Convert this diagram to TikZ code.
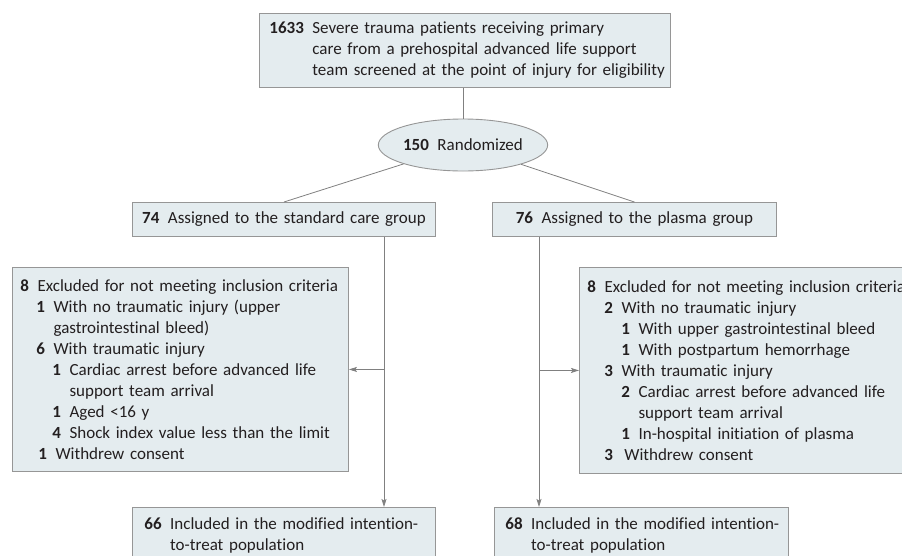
\documentclass[tikz,border=0pt]{standalone}
\usepackage{fontspec}
\setmainfont{Carlito}[Ligatures=NoCommon]
\usetikzlibrary{shapes.geometric, arrows.meta, positioning}
\definecolor{boxfill}{RGB}{228, 236, 239}
\definecolor{boxedge}{RGB}{150, 150, 150}
\definecolor{linkgray}{RGB}{128, 128, 128}
\definecolor{inkdark}{RGB}{35, 31, 32}
% one line of a box: indent, count, text
\newcommand{\entry}[3]{\mbox{\hspace*{#1}\textbf{#2}\hspace{0.5em}#3}}
\newcommand{\wrapline}[3]{\mbox{\hspace*{#1}\phantom{\textbf{#2}\hspace{0.5em}}#3}}

\begin{document}
\begin{tikzpicture}[x=1pt, y=-1pt,
  flowbox/.style={draw=boxedge, fill=boxfill, line width=0.9pt, anchor=north west,
    inner ysep=0pt, align=left, text=inkdark, font=\fontsize{17}{21}\selectfont},
  link/.style={draw=linkgray, line width=0.8pt},
  arr/.style={link, -{Stealth[length=8pt, width=5pt, inset=1.5pt]}}]
  \clip (0, 0) rectangle (902, 555);

  % Screening and randomization
  \node[flowbox, inner xsep=10pt, text width=391pt, minimum width=411pt, minimum height=74pt] (screen) at (259, 13) {
    \entry{0pt}{1633}{Severe trauma patients receiving primary}\\
    \wrapline{0pt}{1633}{care from a prehospital advanced life support}\\
    \wrapline{0pt}{1633}{team screened at the point of injury for eligibility}
  };
  \node[ellipse, draw=boxedge, fill=boxfill, line width=0.9pt, inner sep=0pt, minimum width=161pt, minimum height=52pt,
    text=inkdark, font=\fontsize{17}{21}\selectfont] (rand) at (463, 145) {\entry{0pt}{150}{Randomized}};

  % Two arms
  \node[flowbox, inner xsep=8pt, align=center, text width=287pt, minimum width=303pt, minimum height=34pt] (std) at (132, 202) {
    \entry{0pt}{74}{Assigned to the standard care group}
  };
  \node[flowbox, inner xsep=8pt, align=center, text width=268pt, minimum width=284pt, minimum height=34pt] (plas) at (492, 202) {
    \entry{0pt}{76}{Assigned to the plasma group}
  };

  % Exclusions
  \node[flowbox, inner xsep=8pt, text width=320pt, minimum width=336pt, minimum height=204pt] (exstd) at (12, 267) {
    \entry{0pt}{8}{Excluded for not meeting inclusion criteria}\\
    \entry{16pt}{1}{With no traumatic injury (upper}\\
    \wrapline{16pt}{1}{gastrointestinal bleed)}\\
    \entry{16pt}{6}{With traumatic injury}\\
    \entry{32pt}{1}{Cardiac arrest before advanced life}\\
    \wrapline{32pt}{1}{support team arrival}\\
    \entry{32pt}{1}{Aged <16 y}\\
    \entry{32pt}{4}{Shock index value less than the limit}\\
    \entry{18pt}{1}{Withdrew consent}
  };
  \node[flowbox, inner xsep=8pt, text width=320pt, minimum width=336pt, minimum height=206pt] (explas) at (579, 267) {
    \entry{0pt}{8}{Excluded for not meeting inclusion criteria}\\
    \entry{17pt}{2}{With no traumatic injury}\\
    \entry{34pt}{1}{With upper gastrointestinal bleed}\\
    \entry{34pt}{1}{With postpartum hemorrhage}\\
    \entry{17pt}{3}{With traumatic injury}\\
    \entry{34pt}{2}{Cardiac arrest before advanced life}\\
    \wrapline{34pt}{2}{support team arrival}\\
    \entry{34pt}{1}{In-hospital initiation of plasma}\\
    \entry{17pt}{3}{\,Withdrew consent}
  };

  % Analysed
  \node[flowbox, inner xsep=12pt, text width=279pt, minimum width=303pt, minimum height=56pt] (itstd) at (132, 507) {
    \entry{0pt}{66}{Included in the modified intention-}\\
    \wrapline{0pt}{66}{to-treat population}
  };
  \node[flowbox, inner xsep=11pt, text width=272pt, minimum width=294pt, minimum height=56pt] (itplas) at (494, 507) {
    \entry{0pt}{68}{Included in the modified intention-}\\
    \wrapline{0pt}{68}{to-treat population}
  };

  % Connectors
  \coordinate (stdline) at (384, 0);
  \coordinate (plasline) at (539, 0);
  \draw[link] (screen.south -| rand.north) -- (rand.north);
  \draw[link] (rand) -- (std.north);
  \draw[link] (rand) -- (plas.north);
  \draw[arr] (std.south -| stdline) -- (itstd.north -| stdline);
  \draw[arr] (plas.south -| plasline) -- (itplas.north -| plasline);
  \draw[arr] (stdline |- exstd.east) -- (exstd.east);
  \draw[arr] (plasline |- explas.west) -- (explas.west);
\end{tikzpicture}
\end{document}
